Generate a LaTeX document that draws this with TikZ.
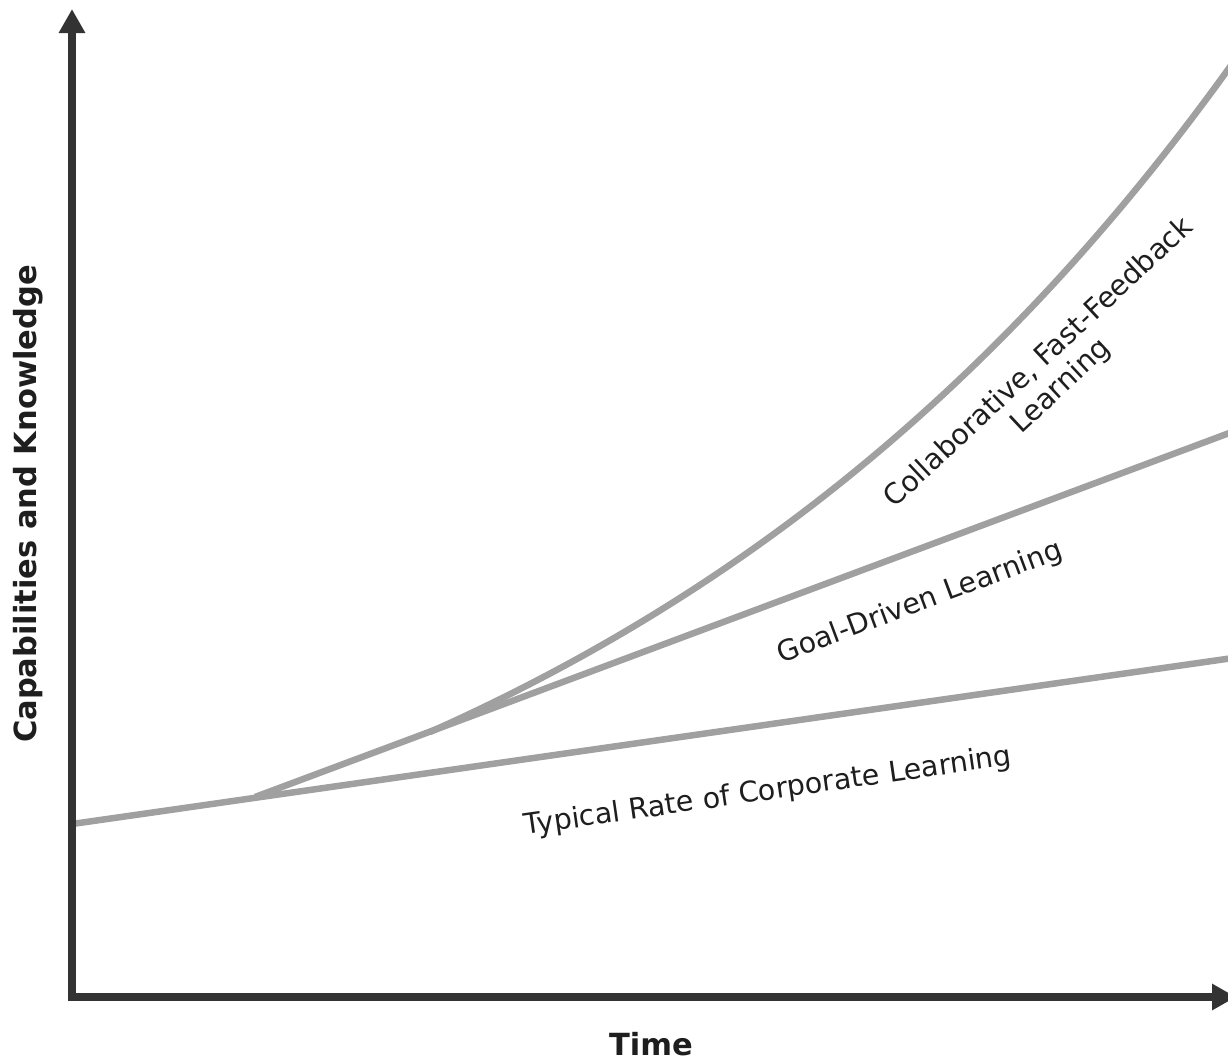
\documentclass[tikz,border=0pt]{standalone}
\usepackage{fontspec}
\setmainfont{DejaVu Sans}
\usetikzlibrary{arrows.meta}
\definecolor{axiscol}{HTML}{333333}
\definecolor{curvecol}{HTML}{A0A0A0}
\definecolor{txtcol}{HTML}{1E1E1E}
\begin{document}
\begin{tikzpicture}[x=1pt,y=-1pt,
  axisline/.style={draw=axiscol,line width=8pt,-{Triangle[width=25pt,length=24pt]}},
  curve/.style={draw=curvecol,line width=6.5pt},
  axislabel/.style={font=\fontsize{30.5}{34}\selectfont\bfseries,text=txtcol,inner sep=0pt},
  curvelabel/.style={font=\fontsize{28.5}{32}\selectfont,text=txtcol,inner sep=0pt,align=center}]
\useasboundingbox (0,0) rectangle (1228,1061);
% coordinates
\coordinate (origin) at (72,1001);
\coordinate (ytop) at (72,9);
\coordinate (xstart) at (68,997);
\coordinate (xend) at (1236,997);
\coordinate (t0) at (72,824);
\coordinate (t1) at (1240,657);
\coordinate (g0) at (255,797);
\coordinate (g1) at (1240,429);
% curves
\draw[curve] (t0) -- (t1);
\draw[curve] (g0) -- (g1);
\draw[curve] plot[domain=430:1232,samples=80,smooth] (\x,{732-315*(exp(0.00142*(\x-430))-1)});
% axes
\draw[axisline] (origin) -- (ytop);
\draw[axisline] (xstart) -- (xend);
% labels
\node[axislabel,rotate=90] (ylab) at (28,504) {Capabilities and Knowledge};
\node[axislabel] (xlab) at (651,1044) {Time};
\node[curvelabel,rotate=8.2] (typ) at (768,792) {Typical Rate of Corporate Learning};
\node[curvelabel,rotate=20.5] (goal) at (920,603) {Goal-Driven Learning};
\node[curvelabel,rotate=43] (coll) at (1050,375) {Collaborative, Fast-Feedback\\Learning};
\end{tikzpicture}
\end{document}
